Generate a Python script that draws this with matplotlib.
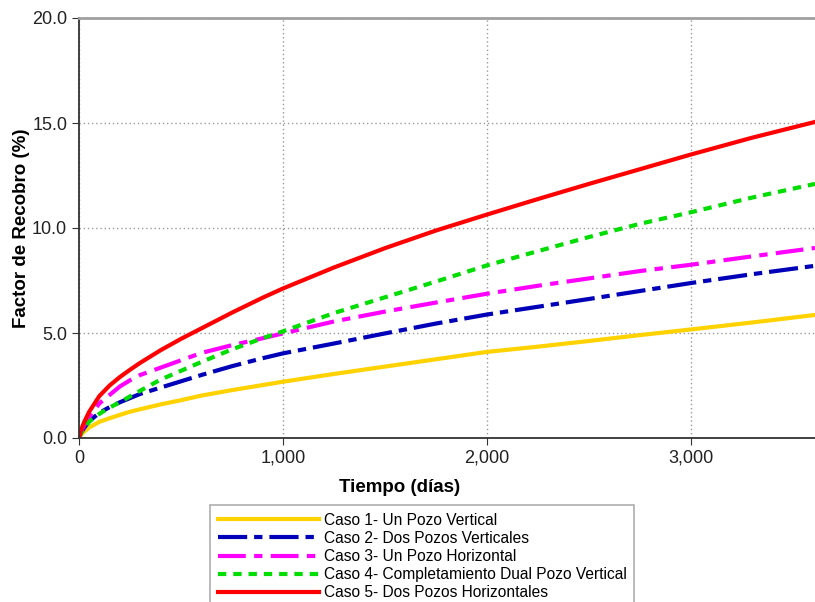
import matplotlib
matplotlib.use("Agg")
import matplotlib.pyplot as plt
from matplotlib.ticker import FuncFormatter, MultipleLocator

plt.rcParams['font.family'] = ['Liberation Sans', 'DejaVu Sans']
plt.rcParams['lines.scale_dashes'] = False

# tiempo de simulación (días)
dias = [0, 10, 25, 50, 100, 150, 200, 250, 300, 400, 500, 600, 750, 900, 1000,
        1250, 1500, 1750, 2000, 2250, 2500, 2750, 3000, 3300, 3608]

# factor de recobro (%) por caso
caso1 = [0, 0.15, 0.30, 0.50, 0.77, 0.94, 1.10, 1.25, 1.37, 1.60, 1.80, 2.02, 2.28, 2.52, 2.68,
         3.05, 3.40, 3.75, 4.10, 4.35, 4.62, 4.90, 5.17, 5.50, 5.86]
caso2 = [0, 0.25, 0.48, 0.80, 1.20, 1.47, 1.70, 1.90, 2.10, 2.40, 2.70, 3.00, 3.42, 3.80, 4.03,
         4.50, 4.98, 5.45, 5.88, 6.25, 6.62, 7.00, 7.38, 7.80, 8.20]
caso3 = [0, 0.30, 0.60, 1.00, 1.65, 2.05, 2.45, 2.75, 3.00, 3.35, 3.70, 4.05, 4.42, 4.75, 4.98,
         5.55, 6.02, 6.45, 6.87, 7.25, 7.60, 7.95, 8.25, 8.65, 9.05]
caso4 = [0, 0.25, 0.45, 0.78, 1.15, 1.45, 1.70, 1.98, 2.25, 2.78, 3.20, 3.62, 4.22, 4.75, 5.08,
         5.95, 6.70, 7.45, 8.22, 8.90, 9.57, 10.20, 10.75, 11.45, 12.10]
caso5 = [0, 0.38, 0.75, 1.25, 2.00, 2.50, 2.90, 3.25, 3.58, 4.18, 4.72, 5.22, 5.97, 6.68, 7.12,
         8.12, 9.04, 9.88, 10.64, 11.38, 12.10, 12.80, 13.50, 14.30, 15.05]

etiquetas = [
    "Caso 1- Un Pozo Vertical",
    "Caso 2- Dos Pozos Verticales",
    "Caso 3- Un Pozo Horizontal",
    "Caso 4- Completamiento Dual Pozo Vertical",
    "Caso 5- Dos Pozos Horizontales",
]

fig = plt.figure(figsize=(8.15, 6.02), dpi=100)
ax = fig.add_axes([79 / 815, 1 - 438 / 602, 1 - 79 / 815, (438 - 18) / 602])

lw = 3.0
ax.plot(dias, caso1, color='#FFD200', lw=lw, label=etiquetas[0])
ax.plot(dias, caso2, color='#0000B8', lw=lw, dashes=[21, 5, 6, 5], label=etiquetas[1])
ax.plot(dias, caso3, color='#FF00FF', lw=lw, dashes=[20, 6, 6, 6], label=etiquetas[2])
ax.plot(dias, caso4, color='#00DD00', lw=lw, dashes=[6, 5], label=etiquetas[3])
ax.plot(dias, caso5, color='#FF0000', lw=lw, label=etiquetas[4])

ax.set_xlim(0, 3608)
ax.set_ylim(0, 20)
ax.xaxis.set_major_locator(MultipleLocator(1000))
ax.yaxis.set_major_locator(MultipleLocator(5))
ax.xaxis.set_major_formatter(FuncFormatter(lambda v, p: f"{v:,.0f}"))
ax.yaxis.set_major_formatter(FuncFormatter(lambda v, p: f"{v:.1f}"))
ax.tick_params(labelsize=13, length=5, color='#333333', labelcolor='#222222')

ax.grid(True, color='#999999', linestyle=(0, (1, 2)), linewidth=1.0)
ax.set_axisbelow(True)

ax.spines['right'].set_visible(False)
ax.spines['top'].set_color('#a0a0a0')
ax.spines['top'].set_linewidth(2)
for s in ('left', 'bottom'):
    ax.spines[s].set_color('#333333')
    ax.spines[s].set_linewidth(1.3)

ax.set_xlabel("Tiempo (días)", fontsize=13.5, fontweight='bold')
ax.set_ylabel("Factor de Recobro (%)", fontsize=13.5, fontweight='bold')
ax.xaxis.set_label_coords(0.436, -0.098)
ax.yaxis.set_label_coords(-0.066, 0.5)

leg = fig.legend(loc='upper left', bbox_to_anchor=(210 / 815, 1 - 505 / 602),
                 fontsize=11.2, frameon=True, fancybox=False, handlelength=6.5,
                 handletextpad=0.3, labelspacing=0.2, borderpad=0.5,
                 borderaxespad=0)
leg.get_frame().set_edgecolor('#999999')
leg.get_frame().set_linewidth(1.2)

fig.savefig("out.png", dpi=100)
